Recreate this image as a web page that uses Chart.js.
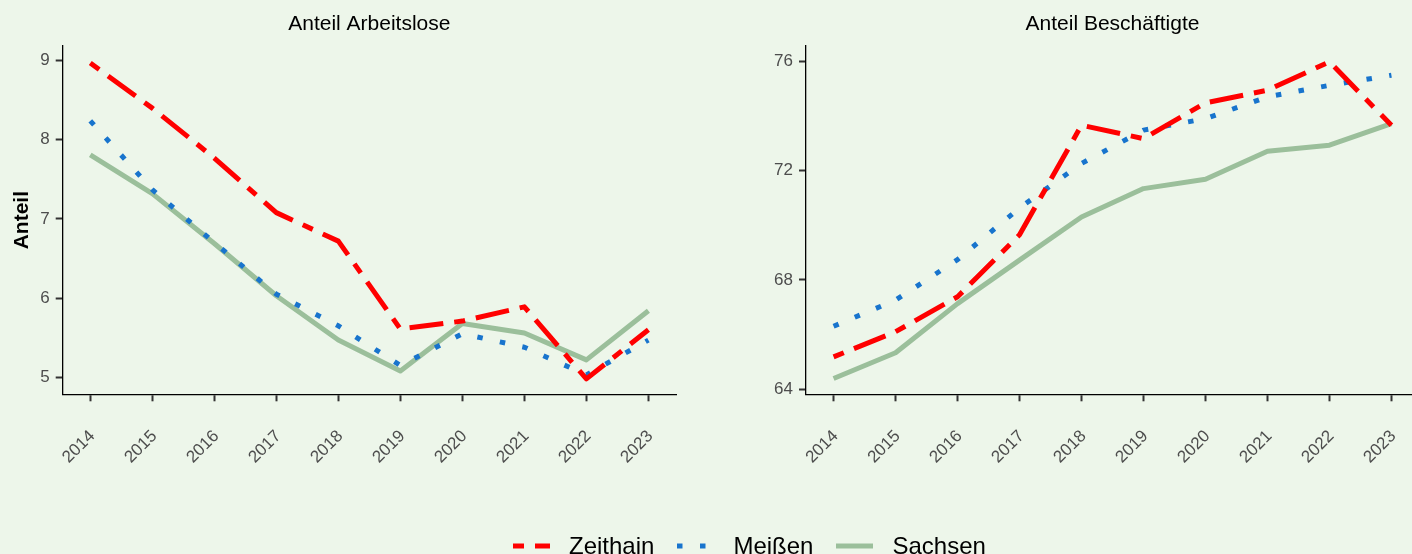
<!DOCTYPE html>
<html>
<head>
<meta charset="utf-8">
<script src="https://cdn.jsdelivr.net/npm/chart.js@4.4.1/dist/chart.umd.min.js"></script>
<style>
  html, body { margin:0; padding:0; width:1412px; height:554px; overflow:hidden; background:#EDF6EA; }
  body { position:relative; font-family:"Liberation Sans", Arial, sans-serif; }
  #leftBox { position:absolute; left:0; top:0; width:700px; height:554px; }
  #rightBox { position:absolute; left:720px; top:0; width:720px; height:554px; }
  #legend { position:absolute; left:513px; top:534px; height:23px; display:flex; align-items:center; font-size:24px; line-height:23px; color:#000; white-space:nowrap; }
  .item { display:flex; align-items:center; margin-right:23px; }
  .item canvas { display:block; margin-right:19px; }
</style>
</head>
<body>
<div id="leftBox"><canvas id="cLeft" width="700" height="554"></canvas></div>
<div id="rightBox"><canvas id="cRight" width="720" height="554"></canvas></div>
<div id="legend"></div>
<script>
// ---- data ----
const years = [2014, 2015, 2016, 2017, 2018, 2019, 2020, 2021, 2022, 2023];
const seriesNames = ["Zeithain", "Meißen", "Sachsen"];
const panelTitles = ["Anteil Arbeitslose", "Anteil Beschäftigte"];
const yAxisTitle = "Anteil";

const zeithainArbeitslose = [8.97, 8.40, 7.77, 7.08, 6.72, 5.61, 5.71, 5.89, 4.98, 5.60];
const meissenArbeitslose  = [8.24, 7.37, 6.70, 6.05, 5.65, 5.15, 5.55, 5.38, 5.03, 5.47];
const sachsenArbeitslose  = [7.81, 7.32, 6.69, 6.03, 5.47, 5.08, 5.68, 5.56, 5.22, 5.84];

const zeithainBeschaeftigte = [65.18, 66.10, 67.38, 69.65, 73.66, 73.17, 74.48, 74.94, 75.98, 73.66];
const meissenBeschaeftigte  = [66.30, 67.26, 68.74, 70.63, 72.26, 73.48, 73.90, 74.70, 75.12, 75.49];
const sachsenBeschaeftigte  = [64.39, 65.33, 67.13, 68.72, 70.30, 71.34, 71.68, 72.71, 72.93, 73.72];

const leftTicks = [5, 6, 7, 8, 9];
const rightTicks = [64, 68, 72, 76];

// ---- styles ----
const FONT = '"Liberation Sans", Arial, sans-serif';
const styles = [
  { color: '#FF0000', dash: [11, 11, 34, 11] },
  { color: '#1874CD', dash: [5.5, 17.5] },
  { color: '#9BBF9B', dash: [] }
];
const LW = 5;

function makeDatasets(arrs) {
  return arrs.map((arr, i) => ({
    label: seriesNames[i],
    data: years.map((yr, j) => ({ x: yr, y: arr[j] })),
    borderColor: styles[i].color,
    borderWidth: LW,
    borderDash: styles[i].dash,
    borderCapStyle: 'butt',
    borderJoinStyle: 'round',
    pointRadius: 0,
    fill: false,
    tension: 0
  }));
}

const panelPlugin = {
  id: 'panelDeco',
  afterDraw(chart, args, opts) {
    const ctx = chart.ctx;
    const a = chart.chartArea;
    ctx.save();
    ctx.fillStyle = '#000';
    ctx.font = '21px ' + FONT;
    ctx.textAlign = 'center';
    ctx.textBaseline = 'alphabetic';
    ctx.fillText(opts.title, (a.left + a.right) / 2, 30);
    if (opts.yTitle) {
      ctx.translate(28, (a.top + a.bottom) / 2);
      ctx.rotate(-Math.PI / 2);
      ctx.font = 'bold 21px ' + FONT;
      ctx.fillText(opts.yTitle, 0, 0);
    }
    ctx.restore();
  }
};

function makeChart(id, arrs, cfg) {
  return new Chart(document.getElementById(id), {
    type: 'line',
    data: { datasets: makeDatasets(arrs) },
    plugins: [panelPlugin],
    options: {
      responsive: false,
      devicePixelRatio: 1,
      animation: false,
      events: [],
      layout: { padding: { top: 46, left: 0, right: cfg.padRight, bottom: 0 } },
      plugins: {
        legend: { display: false },
        tooltip: { enabled: false },
        title: { display: false },
        panelDeco: { title: cfg.title, yTitle: cfg.yTitle }
      },
      scales: {
        x: {
          type: 'linear',
          min: years[0] - 0.445,
          max: years[years.length - 1] + 0.445,
          afterFit(s) { s.height = 159.7; },
          afterBuildTicks(s) { s.ticks = years.map(v => ({ value: v })); },
          grid: { display: true, drawOnChartArea: false, drawTicks: true, tickLength: 7, tickColor: '#333333', tickWidth: 2 },
          border: { display: true, color: '#000', width: 1.3 },
          ticks: {
            autoSkip: false, minRotation: 45, maxRotation: 45,
            padding: 25, labelOffset: 2,
            color: '#4D4D4D', font: { family: FONT, size: 17 },
            callback: v => String(v)
          }
        },
        y: {
          type: 'linear',
          min: cfg.yMin, max: cfg.yMax,
          afterFit(s) { s.width = cfg.yWidth; },
          afterBuildTicks(s) { s.ticks = cfg.ticks.map(v => ({ value: v })); },
          grid: { display: true, drawOnChartArea: false, drawTicks: true, tickLength: 7, tickColor: '#333333', tickWidth: 2 },
          border: { display: true, color: '#000', width: 1.3 },
          ticks: {
            padding: 6,
            color: '#4D4D4D', font: { family: FONT, size: 17 },
            callback: v => String(v)
          }
        }
      }
    }
  });
}

makeChart('cLeft', [zeithainArbeitslose, meissenArbeitslose, sachsenArbeitslose], {
  title: panelTitles[0], yTitle: yAxisTitle, padRight: 24, yWidth: 62.7,
  yMin: 4.785, yMax: 9.185, ticks: leftTicks
});
makeChart('cRight', [zeithainBeschaeftigte, meissenBeschaeftigte, sachsenBeschaeftigte], {
  title: panelTitles[1], yTitle: null, padRight: 21, yWidth: 86,
  yMin: 63.81, yMax: 76.56, ticks: rightTicks
});

// ---- legend ----
const legend = document.getElementById('legend');
seriesNames.forEach((name, i) => {
  const item = document.createElement('div');
  item.className = 'item';
  const c = document.createElement('canvas');
  c.width = 37; c.height = 10;
  const g = c.getContext('2d');
  g.strokeStyle = styles[i].color;
  g.lineWidth = LW;
  g.lineCap = 'butt';
  g.setLineDash(styles[i].dash);
  g.beginPath(); g.moveTo(0, 5); g.lineTo(37, 5); g.stroke();
  const sp = document.createElement('span');
  sp.textContent = name;
  item.appendChild(c); item.appendChild(sp);
  legend.appendChild(item);
});
</script>
</body>
</html>
